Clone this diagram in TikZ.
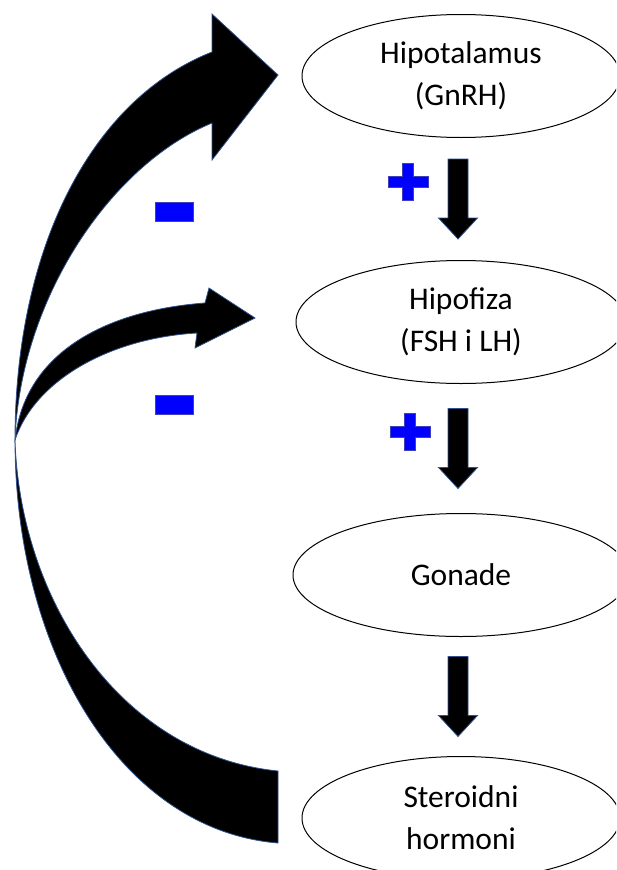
\documentclass[tikz,border=0pt]{standalone}
\usepackage{fontspec}
\setmainfont{Carlito}
\usetikzlibrary{shapes.geometric, calc}
\definecolor{obrub}{HTML}{2F528F}
\definecolor{plava}{HTML}{0000FF}
\newcommand{\znakplus}[1]{\filldraw[znak] (#1) ++(-5.5,-18.5) -- ++(11,0) -- ++(0,13) -- ++(14.5,0) -- ++(0,11) -- ++(-14.5,0) -- ++(0,13) -- ++(-11,0) -- ++(0,-13) -- ++(-14.5,0) -- ++(0,-11) -- ++(14.5,0) -- cycle;}
\newcommand{\znakminus}[1]{\filldraw[znak] (#1) ++(-19,-9.5) rectangle ++(38,19);}
\newcommand{\strelica}[2]{\filldraw[blok] ($(#1)!0.5!(#2)$) ++(-13,-40) -- ++(20,0) -- ++(0,59) -- ++(9.5,0) -- ++(-19.5,21) -- ++(-19.5,-21) -- ++(9.5,0) -- cycle;}
\begin{document}
\begin{tikzpicture}[x=1pt, y=-1pt,
  elipsa/.style={draw, ellipse, line width=1pt, minimum height=123pt, align=center, font=\fontsize{31.5}{42}\selectfont},
  blok/.style={fill=black, draw=obrub, line width=0.8pt},
  luk/.style={fill=black, draw=obrub, line width=0.8pt},
  znak/.style={fill=plava, draw=plava!50!gray, line width=0.8pt}]
\useasboundingbox (0,0) rectangle (616,870);
\clip (0,0) rectangle (616,870);
\node[elipsa, minimum width=318pt] (hipotalamus) at (461,76) {Hipotalamus\\(GnRH)};
\node[elipsa, minimum width=330pt] (hipofiza) at (461,322) {Hipofiza\\(FSH i LH)};
\node[elipsa, minimum width=336pt] (gonade) at (461,575) {Gonade};
\node[elipsa, minimum width=318pt] (steroidi) at (461,818) {Steroidni\\hormoni};
\strelica{hipotalamus.south}{hipofiza.north}
\strelica{hipofiza.south}{gonade.north}
\strelica{gonade.south}{steroidi.north}
\znakplus{408,182}
\znakplus{410,432}
\znakminus{174,211.5}
\znakminus{174,405}
% povratne veze
\filldraw[luk] (15,440) .. controls (15,250) and (90,100) .. (212,52) -- (212,14) -- (278,75) -- (212,160) -- (212,123) .. controls (110,165) and (20,300) .. (15,440) -- cycle;
\filldraw[luk] (15,440) .. controls (25,350) and (110,310) .. (205,303) -- (209,288) -- (255,318) -- (195,348) -- (197,333) .. controls (110,338) and (35,380) .. (15,440) -- cycle;
\filldraw[luk] (15,440) .. controls (15,650) and (120,830) .. (278,843) -- (278,771) .. controls (120,755) and (20,600) .. (15,440) -- cycle;
\end{tikzpicture}
\end{document}
